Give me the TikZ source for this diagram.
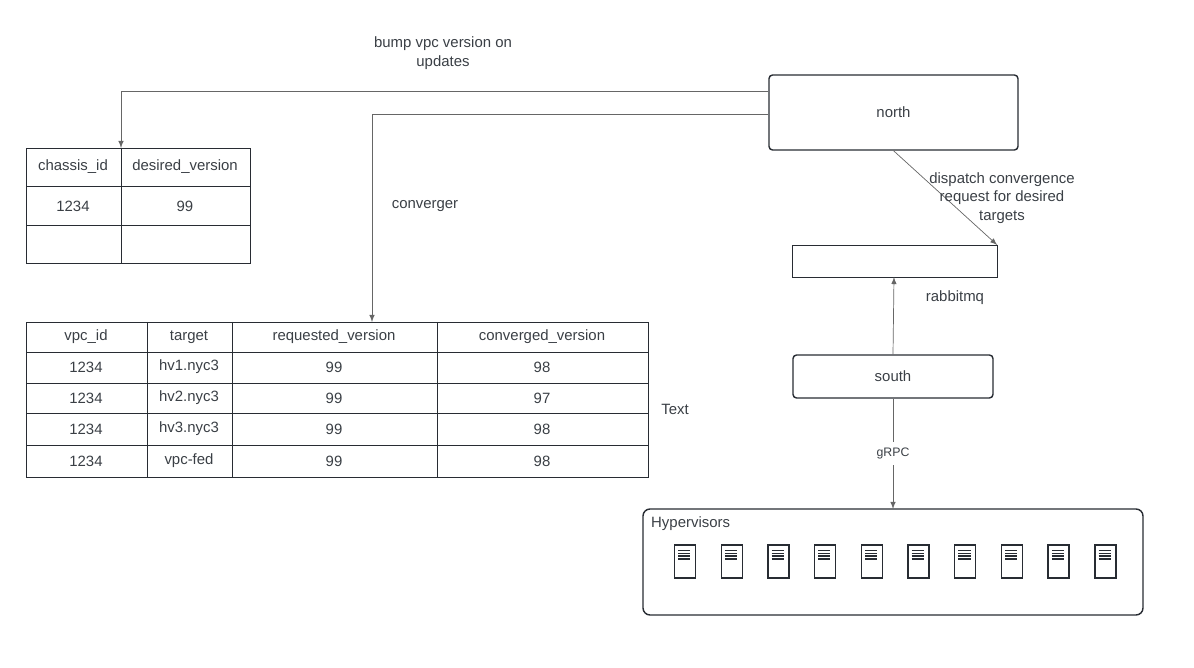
\documentclass[tikz,border=0pt]{standalone}
\usepackage{fontspec}
\setmainfont{Liberation Sans}
\usetikzlibrary{shapes.geometric}
\tikzset{>=latex}
\definecolor{ctx}{HTML}{3A3F45}
\definecolor{cln}{HTML}{282C33}
\tikzset{
    lbl/.style={font=\fontsize{8.5}{10.5}\selectfont, text=ctx},
    box/.style={draw=cln, thick, rounded corners=2pt, lbl},
    cnx/.style={->, draw=gray!80!black},
    srv/.style={draw=cln, thick, fill=white, minimum width=.42cm, minimum height=.66cm, inner sep=0pt}
}
\begin{document}
\begin{tikzpicture}[x=.02cm, y=-.02cm]
    \useasboundingbox(0, 0) rectangle (1194, 668);
    % small table
    \draw[cln](26, 148) rectangle (250, 263);
    \draw[cln](121, 148)--(121, 263);
    \foreach \y in {186, 225}
        \draw[cln](26, \y)--(250, \y);
    \node[lbl] at(73, 167){chassis\_id};
    \node[lbl] at(185, 167){desired\_version};
    \node[lbl] at(73, 206){1234};
    \node[lbl] at(185, 206){99};
    \coordinate (tsmall) at (121, 148);
    % big table
    \draw[cln](26, 322) rectangle (648, 477);
    \foreach \x in {147, 232, 437}
        \draw[cln](\x, 322)--(\x, 477);
    \foreach \y in {352, 383, 413, 445}
        \draw[cln](26, \y)--(648, \y);
    \node[lbl] at(86, 337){vpc\_id};
    \node[lbl] at(189, 337){target};
    \node[lbl] at(334, 337){requested\_version};
    \node[lbl] at(542, 337){converged\_version};
    \foreach \y/\t/\c in {367/hv1.nyc3/98, 398/hv2.nyc3/97, 429/hv3.nyc3/98, 461/vpc-fed/98}{
        \node[lbl] at(86, \y){1234};
        \node[lbl] at(189, \y){\t};
        \node[lbl] at(334, \y){99};
        \node[lbl] at(542, \y){\c};
    }
    \coordinate (tbig) at (372, 322);
    \node[lbl] at(675, 409){Text};
    % services
    \node[box, minimum width=4.98cm, minimum height=1.5cm] (north) at(893.5, 112.5){north};
    \node[cylinder, draw=cln, shape aspect=.5, minimum width=.64cm, minimum height=4.1cm, inner sep=0pt] (mq) at(894.5, 261){};
    \node[box, minimum width=4cm, minimum height=.86cm] (south) at(893, 376.5){south};
    \draw[cln, thick, rounded corners=4pt](643, 509) rectangle (1143, 615);
    \node[lbl, anchor=north west] (hyp) at(645, 510){Hypervisors};
    \coordinate (hv) at (893, 509);
    \foreach \i in {0,...,9}{
        \node[srv] (s\i) at({685+46.7*\i}, 561.5){};
        \foreach \k in {0,1,2,3}
            \draw[cln, thick]([xshift=2.5pt, yshift={-3.5pt-1.6pt*\k}]s\i.north west)--++(6.9pt, 0);
    }
    % connectors
    \draw[cnx](north.west |- 0, 91)-|(tsmall);
    \draw[cnx](north.west |- 0, 114)-|(tbig);
    \draw[cnx](north.south)--(mq.before top |- 0, 245);
    \draw[cnx](south.north)--(894, 277);
    \draw[cnx](south.south)--(hv) node[pos=.5, lbl, fill=white, font=\fontsize{7}{8}\selectfont]{gRPC};
    \node[lbl, align=center] at(443, 53){bump vpc version on\\updates};
    \node[lbl] at(425, 206){converger};
    \node[lbl, align=center] at(1002, 198){dispatch convergence\\request for desired\\targets};
    \node[lbl] at(955, 298){rabbitmq};
\end{tikzpicture}
\end{document}
